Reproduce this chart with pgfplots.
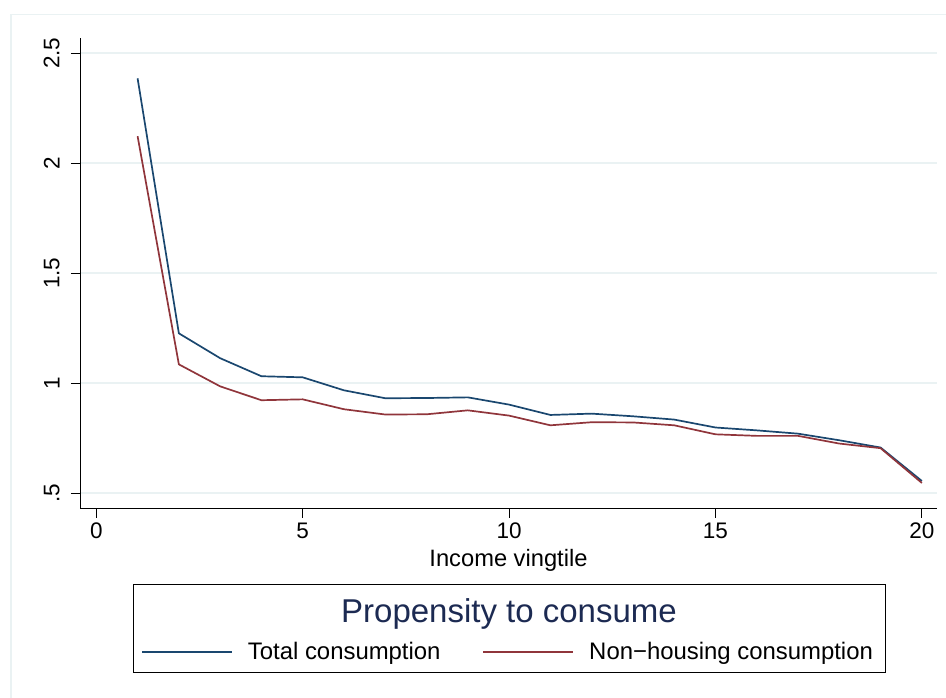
\documentclass[border=0pt]{standalone}
\usepackage{fontspec}
\setmainfont{Liberation Sans}
\usepackage{pgfplots}
\pgfplotsset{compat=1.18}
\definecolor{stnavy}{RGB}{26,71,111}
\definecolor{stmaroon}{RGB}{144,53,59}
\definecolor{stgrid}{RGB}{234,242,243}
\definecolor{sttitle}{RGB}{28,42,82}
\begin{document}
\begin{tikzpicture}[x=1bp,y=1bp]
\path[use as bounding box] (0,0) rectangle (946,698);
\draw[stgrid, line width=1.2bp] (11,-5) rectangle (960,683.3);
\begin{axis}[
  at={(80.3bp,189.7bp)}, anchor=south west, scale only axis,
  width=856.4bp, height=469.8bp,
  xmin=-0.388, xmax=20.36, ymin=0.4318, ymax=2.567,
  axis x line*=bottom, axis y line*=left,
  axis line style={black, line width=1bp, -},
  tick align=outside, major tick length=9.5bp,
  tick style={black, line width=1bp},
  xtick={0,5,10,15,20}, ytick={0.5,1,1.5,2,2.5},
  xticklabels={0,5,10,15,20},
  yticklabels={.5,1,1.5,2,2.5},
  ymajorgrids, grid style={stgrid, line width=2bp},
  ticklabel style={font=\fontsize{22.5bp}{26bp}\selectfont},
  yticklabel style={xshift=-11bp, rotate=90, anchor=south, inner sep=0pt},
  xticklabel style={inner sep=0pt, yshift=-5bp},
  xlabel={Income vingtile},
  xlabel style={font=\fontsize{23.7bp}{28bp}\selectfont, at={(axis description cs:0.5,-0.1245)}, anchor=base, inner sep=0pt},
  legend columns=2,
  legend style={at={(axis description cs:0.0674,-0.3058)}, anchor=west, draw=none, fill=none,
    font=\fontsize{23.9bp}{28bp}\selectfont, nodes={inner sep=0pt},
    /tikz/every odd column/.append style={column sep=15bp},
    /tikz/every even column/.append style={column sep=42bp}},
  legend image code/.code={\draw[#1] (0bp,0bp) -- (90bp,0bp);},
]
\addplot[stnavy, line width=1.7bp] coordinates {
(1,2.386) (2,1.227) (3,1.114) (4,1.032) (5,1.027) (6,0.968) (7,0.932) (8,0.933) (9,0.936) (10,0.903)
(11,0.856) (12,0.862) (13,0.850) (14,0.835) (15,0.799) (16,0.786) (17,0.771) (18,0.741) (19,0.708) (20,0.556)};
\addlegendentry{Total consumption}
\addplot[stmaroon, line width=1.7bp] coordinates {
(1,2.123) (2,1.086) (3,0.986) (4,0.923) (5,0.927) (6,0.882) (7,0.858) (8,0.859) (9,0.877) (10,0.853)
(11,0.809) (12,0.823) (13,0.822) (14,0.809) (15,0.768) (16,0.761) (17,0.761) (18,0.726) (19,0.705) (20,0.547)};
\addlegendentry{Non−housing consumption}
\end{axis}
\draw[black, line width=1bp] (133,25) rectangle (885,113);
\node[sttitle, font=\fontsize{33bp}{38bp}\selectfont, anchor=base, inner sep=0pt] at (509,75) {Propensity to consume};
\end{tikzpicture}
\end{document}
